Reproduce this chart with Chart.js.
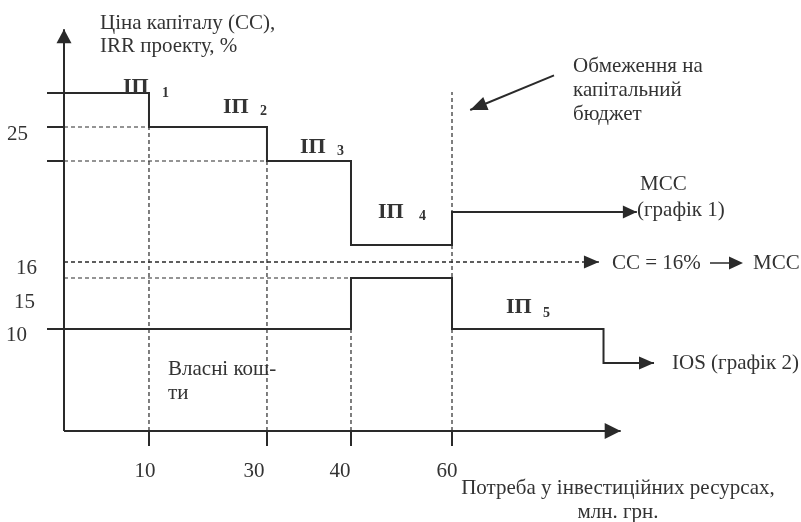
<!DOCTYPE html>
<html>
<head>
<meta charset="utf-8">
<script src="https://cdn.jsdelivr.net/npm/chart.js@4.4.1/dist/chart.umd.min.js"></script>
<style>
  html, body { margin: 0; padding: 0; background: #fff; }
  #wrap { width: 801px; height: 522px; }
</style>
</head>
<body>
<div id="wrap"><canvas id="c" width="801" height="522"></canvas></div>
<script>
// Investment volume ticks, млн. грн.
const xTicks = [10, 30, 40, 60];
// Percent levels labelled on the vertical axis
const yTicks = [25, 16, 15, 10];

// Upper stepped schedule: ІП1 … ІП4, then the part past the budget limit
const upperX = [-2.5, 10, 30, 40, 60, 96.6];
const upperY = [28, 25, 22, 18, 20, 20];

// Lower stepped schedule: own funds, 15 % band, ІП5 and the tail
const lowerX = [-2.5, 40, 60, 90, 100];
const lowerY = [10, 15, 10, 7, 7];

// Cost of capital level and its dashed line end
const ccLevel = 16;
const ccEnd = 89.1;

// Capital budget constraint
const budgetLimit = 60;
const budgetTop = 28.1;

// Axis extents
const xAxisEnd = 93.4;
const yAxisEnd = 33.8;

// Pointer to the budget constraint line: from the caption towards the line
const pointerX = [80.2, 63.6];
const pointerY = [29.6, 26.5];

const INK = '#2a2a2a';
const TEXT = '#333';
const SERIF = '"Liberation Serif", "Times New Roman", serif';

// The axes of this diagram are schematic: each marked value sits at its own
// place along the axis. A linear scale with piecewise mapping through knots
// [value, fraction of the chart area].
const { LinearScale } = Chart;
function viaKnots(knots, v) {
  let i = 1;
  while (i < knots.length - 1 && v > knots[i][0]) i++;
  const [v0, f0] = knots[i - 1];
  const [v1, f1] = knots[i];
  return f0 + (v - v0) * (f1 - f0) / (v1 - v0);
}
class SchematicScale extends LinearScale {
  getPixelForValue(value) {
    const f = viaKnots(this.options.knots, value);
    return this.isHorizontal() ? this.left + f * this.width : this.top + f * this.height;
  }
  getValueForPixel(pixel) {
    const f = this.isHorizontal() ? (pixel - this.left) / this.width : (pixel - this.top) / this.height;
    const inv = this.options.knots.map(([v, fr]) => [fr, v]).sort((a, b) => a[0] - b[0]);
    return viaKnots(inv, f);
  }
}
SchematicScale.id = 'schematic';
SchematicScale.defaults = LinearScale.defaults;
Chart.register(SchematicScale);

const xKnots = [[-2.5, 0.0587], [0, 0.0799], [10, 0.1860], [30, 0.3333], [40, 0.4382], [60, 0.5643], [100, 0.8165]];
const yKnots = [[0, 0.8257], [7, 0.6954], [10, 0.6303], [15, 0.5326], [16, 0.5019], [18, 0.4693],
                [20, 0.4061], [22, 0.3084], [25, 0.2433], [28, 0.1782], [34, 0.0517]];

const pts = (xs, ys) => xs.map((x, i) => ({ x, y: ys[i] }));
const GAP = { x: 0, y: null };

// Dashed guide lines, broken into separate pieces
const guides = [
  { x: 0, y: 25 }, { x: 10, y: 25 }, GAP,
  { x: 0, y: 22 }, { x: 30, y: 22 }, GAP,
  { x: 0, y: 15 }, { x: 40, y: 15 }, GAP,
  { x: 10, y: 0 }, { x: 10, y: 25 }, GAP,
  { x: 30, y: 0 }, { x: 30, y: 22 }, GAP,
  { x: 40, y: 0 }, { x: 40, y: 10 }, GAP,
  { x: budgetLimit, y: 0 }, { x: budgetLimit, y: budgetTop }
];
// Short solid marks left of the vertical axis
const sideMarks = [
  { x: -2.5, y: 25 }, { x: 0, y: 25 }, GAP,
  { x: -2.5, y: 22 }, { x: 0, y: 22 }
];

function drawHead(ctx, x, y, angle, len, wid, color) {
  ctx.save();
  ctx.translate(x, y);
  ctx.rotate(angle);
  ctx.beginPath();
  ctx.moveTo(0, 0);
  ctx.lineTo(-len, -wid / 2);
  ctx.lineTo(-len, wid / 2);
  ctx.closePath();
  ctx.fillStyle = color;
  ctx.fill();
  ctx.restore();
}

const arrowHeads = {
  id: 'arrowHeads',
  afterDatasetsDraw(chart) {
    const ctx = chart.ctx;
    chart.data.datasets.forEach((ds, i) => {
      if (!ds.arrowHead) return;
      const els = chart.getDatasetMeta(i).data.filter(p => !p.skip);
      const tip = els[els.length - 1], prev = els[els.length - 2];
      const a = Math.atan2(tip.y - prev.y, tip.x - prev.x);
      drawHead(ctx, tip.x, tip.y, a, ds.arrowHead[0], ds.arrowHead[1], ds.borderColor);
    });
  }
};

const texts = {
  id: 'texts',
  afterDraw(chart) {
    const ctx = chart.ctx;
    const xs = chart.scales.x, ys = chart.scales.y;
    ctx.save();
    ctx.fillStyle = TEXT;
    ctx.textBaseline = 'alphabetic';

    // tick marks under the horizontal axis
    ctx.strokeStyle = INK;
    ctx.lineWidth = 2;
    const y0 = ys.getPixelForValue(0);
    xTicks.forEach(v => {
      const px = Math.round(xs.getPixelForValue(v));
      ctx.beginPath();
      ctx.moveTo(px, y0);
      ctx.lineTo(px, y0 + 15);
      ctx.stroke();
    });

    ctx.font = '21px ' + SERIF;
    // horizontal tick labels
    const xShift = { 10: -4, 30: -13, 40: -11, 60: -5 };
    ctx.textAlign = 'center';
    xTicks.forEach(v => ctx.fillText(String(v), xs.getPixelForValue(v) + xShift[v], y0 + 46));

    // vertical tick labels
    const yPlace = { 25: [28, 13], 16: [37, 12], 15: [35, 30], 10: [27, 12] };
    ctx.textAlign = 'right';
    yTicks.forEach(v => ctx.fillText(String(v), yPlace[v][0], ys.getPixelForValue(v) + yPlace[v][1]));

    // captions
    ctx.textAlign = 'left';
    ctx.fillText('Ціна капіталу (СС),', 100, 29);
    ctx.fillText('IRR проекту, %', 100, 52);
    ctx.fillText('Обмеження на', 573, 72);
    ctx.fillText('капітальний', 573, 96);
    ctx.fillText('бюджет', 573, 120);
    ctx.fillText('MCC', 640, 190);
    ctx.fillText('(графік 1)', 637, 216);
    ctx.fillText('CC = 16%', 612, 269);
    ctx.fillText('MCC', 753, 269);
    ctx.fillText('IOS (графік 2)', 672, 369);
    ctx.fillText('Власні кош-', 168, 375);
    ctx.fillText('ти', 168, 399);
    ctx.textAlign = 'center';
    ctx.fillText('Потреба у інвестиційних ресурсах,', 618, 494);
    ctx.fillText('млн. грн.', 618, 518);

    // small arrow inside "CC = 16% → MCC"
    ctx.beginPath();
    ctx.lineWidth = 1.5;
    ctx.moveTo(710, 263);
    ctx.lineTo(732, 263);
    ctx.stroke();
    drawHead(ctx, 743, 263, 0, 14, 13, INK);

    // investment project labels
    const projects = [
      ['1', 123, 93, 162, 97],
      ['2', 223, 113, 260, 115],
      ['3', 300, 153, 337, 155],
      ['4', 378, 218, 419, 220],
      ['5', 506, 313, 543, 317]
    ];
    ctx.textAlign = 'left';
    projects.forEach(([n, x, y, sx, sy]) => {
      ctx.font = 'bold 22px ' + SERIF;
      ctx.fillText('ІП', x, y);
      ctx.font = 'bold 14px ' + SERIF;
      ctx.fillText(n, sx, sy);
    });
    ctx.restore();
  }
};

const solid = (data, extra) => Object.assign({
  data, borderColor: INK, borderWidth: 2, pointRadius: 0, fill: false, spanGaps: false
}, extra || {});

new Chart(document.getElementById('c'), {
  type: 'line',
  data: {
    datasets: [
      solid(pts([0, xAxisEnd], [0, 0]), { label: 'axis x', arrowHead: [16, 16] }),
      solid(pts([0, 0], [0, yAxisEnd]), { label: 'axis y', arrowHead: [14, 15] }),
      solid(pts(upperX, upperY), { label: 'MCC (графік 1)', stepped: true, arrowHead: [14, 13] }),
      solid(pts(lowerX, lowerY), { label: 'IOS (графік 2)', stepped: true, arrowHead: [15, 13] }),
      solid(pts([0, ccEnd], [ccLevel, ccLevel]), { label: 'CC = 16%', borderWidth: 1.5, borderDash: [4, 3], arrowHead: [15, 13] }),
      solid(guides, { label: 'guides', borderWidth: 1.2, borderDash: [4, 3] }),
      solid(sideMarks, { label: 'marks' }),
      solid(pts(pointerX, pointerY), { label: 'budget pointer', arrowHead: [17, 14] })
    ]
  },
  options: {
    responsive: false,
    animation: false,
    events: [],
    layout: { padding: 0 },
    plugins: { legend: { display: false }, tooltip: { enabled: false } },
    elements: { line: { tension: 0, borderCapStyle: 'butt' }, point: { radius: 0 } },
    scales: {
      x: { type: 'schematic', display: false, min: -3, max: 120, knots: xKnots },
      y: { type: 'schematic', display: false, min: -2, max: 36, knots: yKnots }
    }
  },
  plugins: [arrowHeads, texts]
});
</script>
</body>
</html>
